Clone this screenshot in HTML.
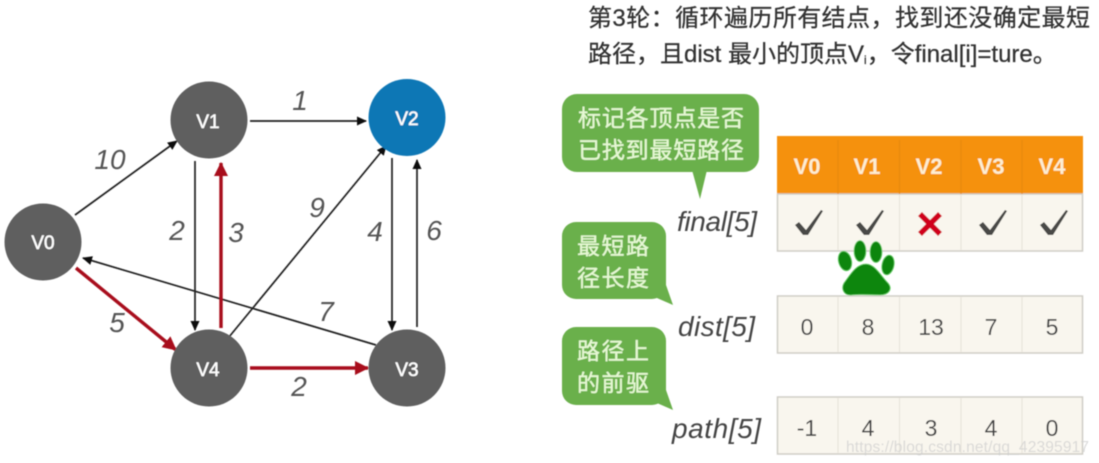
<!DOCTYPE html>
<html><head><meta charset="utf-8">
<style>
html,body{margin:0;padding:0;background:#fff}
svg{display:block}
text{font-family:"Liberation Sans","Noto Sans CJK SC",sans-serif}
</style></head><body>
<svg width="1099" height="463" viewBox="0 0 1099 463" xmlns="http://www.w3.org/2000/svg">
<defs>
<filter id="b" x="-5%" y="-5%" width="110%" height="110%"><feGaussianBlur stdDeviation="0.55"/></filter>
<marker id="ak" markerWidth="10" markerHeight="9" refX="9" refY="4.500" orient="auto" markerUnits="userSpaceOnUse"><path d="M0 0L10 4.500L0 9z" fill="#111"/></marker>
<marker id="ar" markerWidth="14" markerHeight="14" refX="13" refY="7" orient="auto" markerUnits="userSpaceOnUse"><path d="M0 0L14 7L0 14z" fill="#a80a1a"/></marker>
<path id="ck" d="M795 225L799 222L806 230L821 210L823 211L808 235L803 235z" fill="#4a4a46"/>
</defs>
<g filter="url(#b)">
<!-- edges -->
<g stroke="#222" stroke-width="1.700" fill="none">
<line x1="75" y1="215" x2="177" y2="141" marker-end="url(#ak)"/>
<line x1="250" y1="121" x2="366" y2="121" marker-end="url(#ak)"/>
<line x1="195" y1="161" x2="195" y2="330" marker-end="url(#ak)"/>
<line x1="229" y1="337" x2="386" y2="146" marker-end="url(#ak)"/>
<line x1="392" y1="158" x2="392" y2="330" marker-end="url(#ak)"/>
<line x1="417" y1="327" x2="417" y2="160" marker-end="url(#ak)"/>
<line x1="376" y1="345" x2="83" y2="258" marker-end="url(#ak)"/>
</g>
<g stroke="#a80a1a" stroke-width="3.400" fill="none">
<line x1="76" y1="268" x2="176" y2="350" marker-end="url(#ar)"/>
<line x1="221" y1="328" x2="221" y2="163" marker-end="url(#ar)"/>
<line x1="250" y1="368" x2="368" y2="368" marker-end="url(#ar)"/>
</g>
<!-- nodes -->
<g fill="#5e5e5e">
<circle cx="43" cy="242" r="38.5"/>
<circle cx="209" cy="120" r="38.5"/>
<circle cx="209" cy="368" r="38.5"/>
<circle cx="407" cy="368" r="38.5"/>
</g>
<circle cx="407" cy="117.5" r="38.5" fill="#1177b5"/>
<g fill="#fff" font-size="19" text-anchor="middle" stroke="#fff" stroke-width="0.4">
<text x="43" y="249">V0</text>
<text x="208" y="128">V1</text>
<text x="407" y="125">V2</text>
<text x="407" y="376">V3</text>
<text x="208" y="376">V4</text>
</g>
<!-- edge labels -->
<g fill="#555" font-size="28" font-style="italic" text-anchor="middle">
<text x="110" y="169">10</text>
<text x="300" y="110">1</text>
<text x="177" y="240">2</text>
<text x="236" y="242">3</text>
<text x="317" y="217">9</text>
<text x="375" y="241">4</text>
<text x="434" y="240">6</text>
<text x="326" y="321">7</text>
<text x="117" y="332">5</text>
<text x="299" y="396">2</text>
</g>
<!-- heading -->
<g fill="#333" font-size="24" stroke="#333" stroke-width="0.25">
<text x="588" y="26" textLength="502" lengthAdjust="spacing">第3轮：循环遍历所有结点，找到还没确定最短</text>
<text x="588" y="62">路径，且dist 最小的顶点V<tspan font-size="12" dy="2">i</tspan><tspan dy="-2">，令final[i]=ture。</tspan></text>
</g>
<!-- bubbles -->
<g fill="#6ab04c">
<rect x="562" y="94" width="197" height="78" rx="15"/>
<path d="M692 170L707 170L700 199z"/>
<rect x="562" y="222" width="104" height="77" rx="14"/>
<path d="M650 295L666 285L673 305z"/>
<rect x="562" y="327" width="104" height="78" rx="14"/>
<path d="M650 400L666 390L673 410z"/>
</g>
<g fill="#e6f8d4" font-size="23" stroke="#e6f8d4" stroke-width="0.3">
<text x="578" y="126" textLength="166" lengthAdjust="spacing">标记各顶点是否</text>
<text x="578" y="158" textLength="166" lengthAdjust="spacing">已找到最短路径</text>
<text x="577" y="254" textLength="72" lengthAdjust="spacing">最短路</text>
<text x="577" y="286" textLength="72" lengthAdjust="spacing">径长度</text>
<text x="577" y="359" textLength="72" lengthAdjust="spacing">路径上</text>
<text x="577" y="391" textLength="72" lengthAdjust="spacing">的前驱</text>
</g>
<!-- row labels -->
<g fill="#444" font-size="28" font-style="italic" text-anchor="end">
<text x="757" y="231" textLength="80" lengthAdjust="spacing">final[5]</text>
<text x="755" y="336" textLength="77" lengthAdjust="spacing">dist[5]</text>
<text x="761" y="438" textLength="89" lengthAdjust="spacing">path[5]</text>
</g>
<!-- table -->
<rect x="777" y="136" width="306" height="58" fill="#f59110"/>
<g fill="#f9f6ee" stroke="#cfcdc6" stroke-width="1.5">
<rect x="777.5" y="194" width="305" height="57"/>
<rect x="777.5" y="296" width="305" height="57"/>
<rect x="777.5" y="397" width="305" height="57"/>
</g>
<g stroke="#e8e5db" stroke-width="1.2">
<path d="M838 195V250M899.500 195V250M961 195V250M1022 195V250M838 297V352M899.500 297V352M961 297V352M1022 297V352M838 398V453M899.500 398V453M961 398V453M1022 398V453"/>
</g>
<g stroke="#e78a10" stroke-width="1.2"><path d="M838 140V194M899.500 140V194M961 140V194M1022 140V194"/></g>
<g fill="#fdeed2" font-size="22" font-weight="bold" text-anchor="middle">
<text x="807" y="174">V0</text><text x="867" y="174">V1</text><text x="929" y="174">V2</text><text x="991" y="174">V3</text><text x="1052" y="174">V4</text>
</g>
<use href="#ck"/>
<use href="#ck" x="61"/>
<use href="#ck" x="184"/>
<use href="#ck" x="245"/>
<path d="M920 214L940 234M940 214L920 234" stroke="#d0021b" stroke-width="5.500" fill="none"/>
<g fill="#444" font-size="23" text-anchor="middle">
<text x="807" y="335">0</text><text x="868" y="335">8</text><text x="931" y="335">13</text><text x="991" y="335">7</text><text x="1052" y="335">5</text>
<text x="807" y="436">-1</text><text x="868" y="436">4</text><text x="931" y="436">3</text><text x="991" y="436">4</text><text x="1052" y="436">0</text>
</g>
<!-- paw -->
<g fill="#0f860f" stroke="#6fd66f" stroke-width="0.8">
<ellipse cx="845" cy="261" rx="6.500" ry="10" transform="rotate(-15 845 261)"/>
<ellipse cx="860" cy="251" rx="6" ry="10.500"/>
<ellipse cx="876" cy="252" rx="6" ry="10.500"/>
<ellipse cx="888" cy="265" rx="6" ry="10" transform="rotate(12 888 265)"/>
<path d="M866 264C875 264 881 276 888 283C893 289 889 295 880 295C873 295 860 294 852 295C843 296 841 288 844 283C850 275 856 264 866 264z"/>
</g>
<!-- watermark -->
<text x="846" y="452" font-size="15.500" fill="#cfcfcf" fill-opacity="0.75" textLength="243" lengthAdjust="spacing">https://blog.csdn.net/qq_42395917</text>
</g>
</svg>
</body></html>
